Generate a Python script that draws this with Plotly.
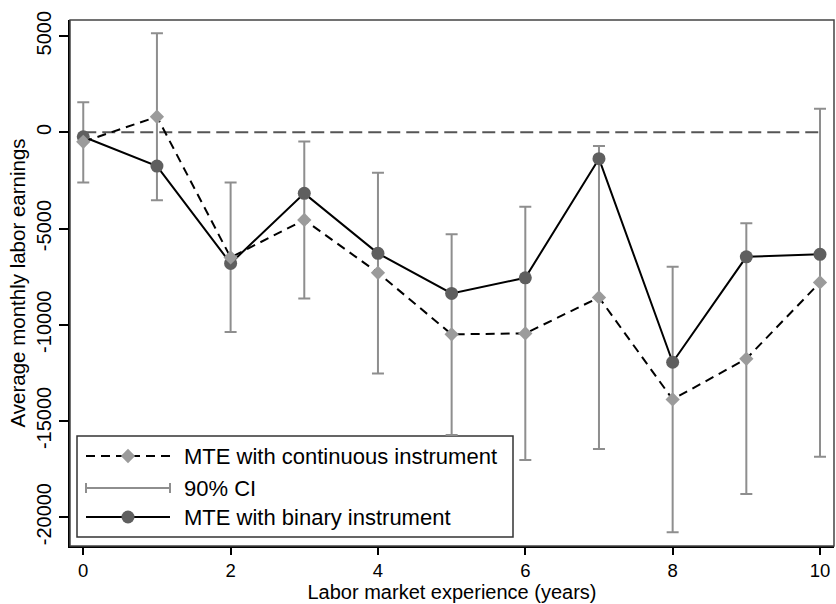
import plotly.graph_objects as go

# Marginal treatment effects by labor market experience
experience = [0, 1, 2, 3, 4, 5, 6, 7, 8, 9, 10]
mte_continuous = [-490, 810, -6500, -4550, -7300, -10500, -10450, -8580, -13880, -11770, -7800]
ci_low = [-2600, -3530, -10380, -8630, -12530, -15730, -17030, -16460, -20780, -18800, -16860]
ci_high = [1560, 5150, -2600, -470, -2100, -5290, -3870, -710, -6990, -4730, 1230]
mte_binary = [-230, -1750, -6810, -3170, -6290, -8370, -7560, -1370, -11950, -6470, -6340]

legend_labels = ["MTE with continuous instrument", "90% CI", "MTE with binary instrument"]
y_ticks = [-20000, -15000, -10000, -5000, 0, 5000]
x_ticks = [0, 2, 4, 6, 8, 10]

FONT = "Liberation Sans, Arial, sans-serif"
DIAMOND = "#9b9b9b"
CIRCLE = "#5f5f5f"
CI_COLOR = "#8e8e8e"

fig = go.Figure()

# 90% confidence intervals around the continuous-instrument estimates
ci_mid = [(lo + hi) / 2 for lo, hi in zip(ci_low, ci_high)]
fig.add_trace(go.Scatter(
    x=experience, y=ci_mid, mode="markers",
    marker=dict(size=1, opacity=0),
    error_y=dict(
        type="data", symmetric=False,
        array=[hi - m for hi, m in zip(ci_high, ci_mid)],
        arrayminus=[m - lo for lo, m in zip(ci_low, ci_mid)],
        color=CI_COLOR, thickness=2, width=6,
    ),
    showlegend=False, hoverinfo="skip",
))

fig.add_trace(go.Scatter(
    x=experience, y=mte_binary, mode="lines+markers",
    line=dict(color="black", width=2),
    marker=dict(symbol="circle", size=13, color=CIRCLE),
    showlegend=False,
))

fig.add_trace(go.Scatter(
    x=experience, y=mte_continuous, mode="lines+markers",
    line=dict(color="black", width=2, dash="9px,6px"),
    marker=dict(symbol="diamond", size=11, color=DIAMOND),
    showlegend=False,
))

# Zero reference line spanning the observed experience range
fig.add_shape(type="line", xref="x", yref="y",
              x0=min(experience), x1=max(experience), y0=0, y1=0,
              line=dict(color="#555555", width=2, dash="13px,6px"), layer="below")

# Hand-built legend in a pixel-scaled overlay coordinate system
rows = [456, 488, 517]
sym_x0, sym_x1, sym_mid, text_x = 86, 170, 128, 182
fig.add_shape(type="rect", xref="x2", yref="y2", x0=77, x1=513, y0=436, y1=537,
              line=dict(color="#333333", width=1.5), fillcolor="white", layer="below")
fig.add_shape(type="line", xref="x2", yref="y2", x0=sym_x0, x1=sym_x1, y0=rows[0], y1=rows[0],
              line=dict(color="black", width=2, dash="9px,6px"), layer="below")
fig.add_shape(type="line", xref="x2", yref="y2", x0=sym_x0, x1=sym_x1, y0=rows[1], y1=rows[1],
              line=dict(color=CI_COLOR, width=2), layer="below")
for cx in (sym_x0, sym_x1):
    fig.add_shape(type="line", xref="x2", yref="y2", x0=cx, x1=cx, y0=rows[1] - 5, y1=rows[1] + 5,
                  line=dict(color=CI_COLOR, width=2), layer="below")
fig.add_shape(type="line", xref="x2", yref="y2", x0=sym_x0, x1=sym_x1, y0=rows[2], y1=rows[2],
              line=dict(color="black", width=2), layer="below")

fig.add_trace(go.Scatter(
    x=[sym_mid], y=[rows[0]], xaxis="x2", yaxis="y2", mode="markers",
    marker=dict(symbol="diamond", size=11, color=DIAMOND), showlegend=False, hoverinfo="skip",
))
fig.add_trace(go.Scatter(
    x=[sym_mid], y=[rows[2]], xaxis="x2", yaxis="y2", mode="markers",
    marker=dict(symbol="circle", size=13, color=CIRCLE), showlegend=False, hoverinfo="skip",
))
for label, ry in zip(legend_labels, rows):
    fig.add_annotation(x=text_x, y=ry, xref="x2", yref="y2", text=label, showarrow=False,
                       xanchor="left", yanchor="middle",
                       font=dict(family=FONT, size=22, color="black"))

# Plot region frame
fig.add_shape(type="rect", xref="paper", yref="paper", x0=0, x1=1, y0=0, y1=1,
              line=dict(color="#444444", width=1.5), layer="above")

fig.update_layout(
    width=836, height=604,
    margin=dict(l=70, r=2, t=20, b=58),
    paper_bgcolor="white", plot_bgcolor="white",
    font=dict(family=FONT, color="black"),
    xaxis=dict(
        range=[-0.18, 10.19], tickvals=x_ticks, ticks="outside", ticklen=7, tickwidth=1.5,
        tickcolor="black", showgrid=False, zeroline=False, showline=True, linecolor="black",
        linewidth=2, tickfont=dict(size=18.5),
        title=dict(text="Labor market experience (years)", font=dict(size=20), standoff=3),
    ),
    yaxis=dict(
        range=[-21500, 5840], tickvals=y_ticks, ticktext=[str(v) for v in y_ticks],
        tickangle=-90, ticks="outside", ticklen=9,
        tickwidth=1.5, tickcolor="black", showgrid=False, zeroline=False, showline=True,
        linecolor="black", linewidth=2, tickfont=dict(size=20),
        title=dict(text="Average monthly labor earnings", font=dict(size=20.5), standoff=2),
    ),
    xaxis2=dict(overlaying="x", range=[70, 834], visible=False, showgrid=False, zeroline=False),
    yaxis2=dict(overlaying="y", range=[546, 20], visible=False, showgrid=False, zeroline=False),
)

fig.write_html("out.html")
